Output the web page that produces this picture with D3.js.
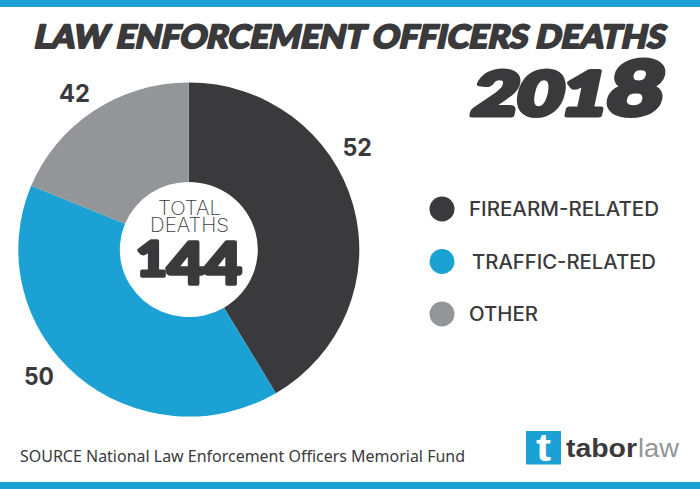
<!DOCTYPE html>
<html>
<head>
<meta charset="utf-8">
<script src="https://cdn.jsdelivr.net/npm/d3@7"></script>
<style>
  html, body { margin: 0; padding: 0; background: #fff; }
  svg { display: block; }
</style>
</head>
<body>
<svg></svg>
<script>
/** Main values */
const categories = ['FIREARM-RELATED', 'TRAFFIC-RELATED', 'OTHER'];
// printed numbers
const deaths = [52, 50, 42];
// the slices in the reference are not in proportion to the printed numbers,
// so their share of the circle (%) is read separately from the picture
const sliceShares = [41.47, 39.75, 18.78];
const colors = ['#3a3a3c', '#1ba1d3', '#939598'];

const width = 700;
const height = 489;
const dark = '#3a3a3c';
const blue = '#1ba1d3';
const cx = 188.8;
const cy = 249.5;
const outerRadius = 170.5;
const innerRadius = 69;
const squash = 0.98; // the donut is a little flatter than a true circle

const svg = d3.select('svg').attr('width', width).attr('height', height);

/** Text fitted between two x positions */
const fitText = (str, x0, x1, y, size, opts = {}) => {
    const t = svg.append('text')
        .attr('x', x0)
        .attr('y', y)
        .attr('font-family', opts.family || 'Lato')
        .attr('font-size', size)
        .attr('font-weight', opts.weight || 400)
        .attr('fill', opts.fill || dark)
        .attr('textLength', x1 - x0)
        .attr('lengthAdjust', 'spacingAndGlyphs');
    if (str !== null) t.text(str);
    if (opts.stroke) {
        t.attr('stroke', opts.fill || dark).attr('stroke-width', opts.stroke).attr('stroke-linejoin', 'round');
    }
    if (opts.skew) {
        // lean the text around its baseline
        t.attr('transform', `translate(${x0}, ${y}) skewX(${opts.skew}) translate(${-x0}, ${-y})`);
    }
    return t;
};

/** Top and bottom bands */
const drawBands = () => {
    svg.append('rect').attr('width', width).attr('height', 7).attr('fill', blue);
    svg.append('rect').attr('y', 482).attr('width', width).attr('height', 7).attr('fill', blue);
};

const drawTitle = () => {
    fitText('LAW ENFORCEMENT OFFICERS DEATHS', 33, 664, 48.5, 32, {weight: 900, stroke: 2, skew: -12});

    // the last digit stands taller than the others
    const year = fitText(null, 470, 659, 115.5, 60, {weight: 900, stroke: 5, skew: -12});
    year.append('tspan').text('201');
    year.append('tspan').attr('font-size', 75).text('8');
};

/** Donut, drawn clockwise from 12 o'clock */
const drawDonut = () => {
    const pie = d3.pie().sort(null);
    const arc = d3.arc().innerRadius(innerRadius).outerRadius(outerRadius);

    svg.append('g')
        .attr('transform', `translate(${cx}, ${cy}) scale(1, ${squash})`)
        .selectAll('path')
        .data(pie(sliceShares))
        .enter()
        .append('path')
        .attr('d', arc)
        .attr('fill', (d, i) => colors[i]);
};

/** Printed numbers around the donut */
const drawValues = () => {
    const spots = [[342.5, 372, 155.7], [24, 54, 385], [59, 90, 101.7]];
    deaths.forEach((d, i) => {
        fitText(d, spots[i][0], spots[i][1], spots[i][2], 24, {family: 'Inter', weight: 700});
    });
};

const drawCenter = () => {
    fitText('TOTAL', 158, 221, 215, 19.5, {family: 'Inter', weight: 200});
    fitText('DEATHS', 150, 229, 232, 19.5, {family: 'Inter', weight: 200});

    // the 4s hang lower than the 1
    const total = fitText(null, 136, 242, 276, 48, {weight: 900, stroke: 3.5});
    total.append('tspan').text('1');
    total.append('tspan').attr('font-size', 58).attr('dy', 8).text('44');
};

const drawLegend = () => {
    const yScale = d3.scalePoint().domain(categories).range([209, 314]);
    const textSpan = [[469, 659], [472, 656], [469, 538]];

    categories.forEach((c, i) => {
        svg.append('circle')
            .attr('cx', 442)
            .attr('cy', yScale(c))
            .attr('r', 12.5)
            .attr('fill', colors[i]);
        fitText(c, textSpan[i][0], textSpan[i][1], yScale(c) + 7, 19.5, {family: 'Inter', weight: 500});
    });
};

const drawFooter = () => {
    fitText('SOURCE National Law Enforcement Officers Memorial Fund', 20, 465, 462, 15.5, {family: 'Noto Sans', weight: 400});

    svg.append('rect').attr('x', 526).attr('y', 431).attr('width', 35).attr('height', 33.5).attr('fill', blue);
    fitText('t', 536, 551, 461, 38, {family: 'Liberation Sans', weight: 700, fill: '#fff'});
    fitText('tabor', 566, 637, 457, 25, {family: 'Liberation Sans', weight: 700});
    fitText('law', 638, 679, 457, 25, {family: 'Liberation Sans', weight: 400, fill: '#939598'});
};

drawBands();
drawTitle();
drawDonut();
drawValues();
drawCenter();
drawLegend();
drawFooter();
</script>
</body>
</html>
